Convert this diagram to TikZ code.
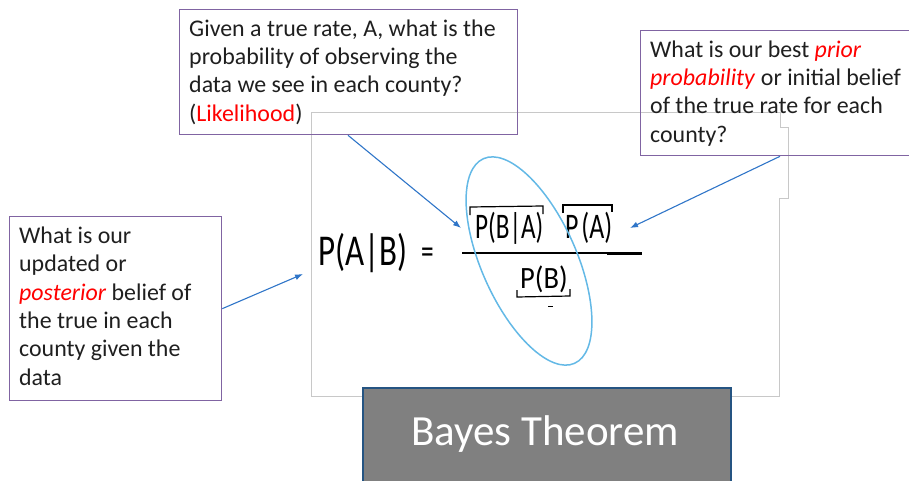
\documentclass[tikz,border=0pt]{standalone}
\usepackage{fontspec}
\setmainfont{Carlito}
\usetikzlibrary{arrows.meta,shapes.geometric,calc}
\definecolor{boxpurple}{RGB}{128,100,162}
\definecolor{arrowblue}{RGB}{47,117,200}
\definecolor{ellblue}{RGB}{100,185,230}
\definecolor{framegray}{RGB}{200,200,200}
\definecolor{titlegray}{RGB}{128,128,128}
\definecolor{titleborder}{RGB}{37,84,130}
\definecolor{hlred}{RGB}{255,0,0}
\begin{document}
\begin{tikzpicture}[x=1pt,y=-1pt,
  qbox/.style={draw=boxpurple, line width=1.3pt, rectangle, inner sep=0pt, anchor=north west},
  qtext/.style={anchor=north west, inner sep=0pt, align=left, text=black!88, font=\fontsize{23.9}{28.4}\selectfont},
  conn/.style={draw=arrowblue, line width=1.1pt, -{Latex[length=8pt,width=6pt]}},
  eqtext/.style={inner sep=0pt, anchor=base west},
  brk/.style={draw=black, line width=1.2pt},
]
\useasboundingbox (0,0) rectangle (909,481);
% picture frame
\draw[framegray, line width=0.8pt] (311,112) -- (780,112) -- (780,127) -- (788,127) -- (788,198) -- (779,198) -- (779,396) -- (311,396) -- cycle;

% equation
\node[eqtext, font=\fontsize{44}{44}\selectfont, xscale=0.75] (lhs) at (318,265) {P(A|B)};
\node[eqtext, font=\fontsize{36}{36}\selectfont, xscale=0.7] (eq) at (421,263) {=};
\node[eqtext, font=\fontsize{36}{36}\selectfont, xscale=0.7] (num1) at (475,238) {P(B|A)};
\node[eqtext, font=\fontsize{36}{36}\selectfont, xscale=0.72] (num2) at (565,238) {P\hspace{4pt}(A)};
\node[eqtext, font=\fontsize{31}{31}\selectfont, xscale=0.92] (den) at (520,288) {P(B)};
\draw[black, line width=1.4pt] (462,253) -- (642,253);
\draw[black, line width=3pt] (607,253.5) -- (642,253.5);
\draw[brk] (470,215) -- (470,207) -- (543,206) -- (543,214);
\draw[brk] (563,213) -- (563,205) -- (612,205) -- (612,212);
\draw[brk] (517,290) -- (517,297) -- (570,296) -- (570,289);
\draw[black, line width=1pt] (548,306) -- (553,306);
\node[draw=ellblue, line width=1.5pt, ellipse, minimum width=95pt, minimum height=224pt, rotate=24, inner sep=0pt] (ell) at (529,261) {};

% question boxes
\node[qbox, minimum width=338pt, minimum height=125pt] (likbox) at (179,9) {};
\node[qtext] (liktext) at (189,17) {\rule{0pt}{19pt}Given a true rate, A, what is the\\probability of observing the\\data we see in each county?\\(\textcolor{hlred}{Likelihood})};

\node[qbox, minimum width=285pt, minimum height=125pt] (priorbox) at (640,30) {};
\node[qtext] (priortext) at (650,38) {\rule{0pt}{19pt}What is our best \textcolor{hlred}{\textit{prior}}\\\textcolor{hlred}{\textit{probability}} or initial belief\\of the true rate for each\\county?};

\node[qbox, minimum width=212pt, minimum height=184pt] (postbox) at (9,216) {};
\node[qtext] (posttext) at (19,224) {\rule{0pt}{19pt}What is our\\updated or\\\textcolor{hlred}{\textit{posterior}} belief of\\the true in each\\county given the\\data};

% title
\node[draw=titleborder, fill=titlegray, line width=1.5pt, rectangle, inner sep=0pt, anchor=north west, minimum width=368pt, minimum height=100pt] (title) at (362,387) {};
\node[anchor=base, inner sep=0pt, text=white, font=\fontsize{43}{43}\selectfont] (titletext) at (545,445) {Bayes Theorem};

% connectors
\coordinate (likend) at (461,228);
\coordinate (priorend) at (630,228);
\coordinate (postend) at (303,274);
\draw[conn] ([xshift=169pt]likbox.south west) -- (likend);
\draw[conn] ([xshift=140pt]priorbox.south west) -- (priorend);
\draw[conn] (postbox.east) -- (postend);
\end{tikzpicture}
\end{document}
